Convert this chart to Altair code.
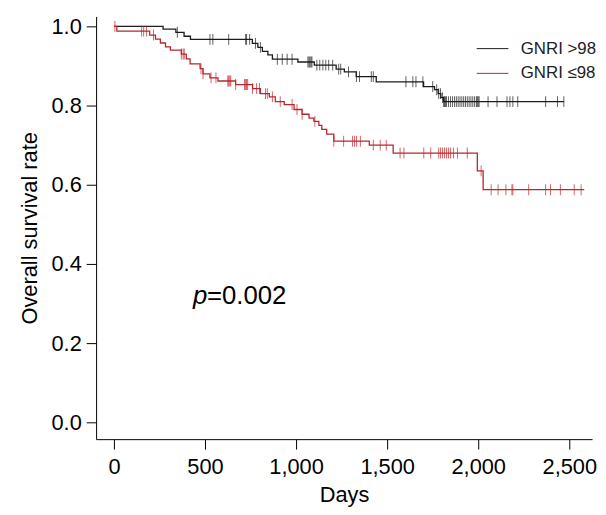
import altair as alt
import pandas as pd

groups = ["GNRI >98", "GNRI \u226498"]
colors = ["#1c1c1c", "#b3282e"]

# GNRI >98 : event days and survival after each event
hi_event_days = [270, 340, 385, 420, 760, 790, 815, 845, 870, 1010, 1100, 1220,
                 1265, 1330, 1440, 1700, 1760, 1780, 1795, 1810]
hi_event_surv = [0.993, 0.985, 0.975, 0.967, 0.957, 0.947, 0.937, 0.928, 0.917,
                 0.910, 0.902, 0.892, 0.885, 0.873, 0.860, 0.848, 0.840, 0.830,
                 0.820, 0.810]
hi_end_day = 2470
hi_censor_days = [348, 527, 543, 630, 723, 728, 745, 777, 804, 897, 924, 951, 978,
                  1065, 1071, 1076, 1082, 1087, 1114, 1130, 1147, 1163, 1179, 1201,
                  1234, 1245, 1288, 1332, 1348, 1413, 1424, 1603, 1641, 1658, 1696,
                  1750, 1772, 1783, 1793, 1804, 1810, 1815, 1820, 1826, 1837, 1848,
                  1859, 1870, 1880, 1890, 1900, 1910, 1920, 1930, 1940, 1950, 1960,
                  1970, 1980, 1990, 1995, 2000, 2005, 2054, 2103, 2158, 2174, 2190,
                  2217, 2370, 2435, 2470]

# GNRI <=98
lo_event_days = [16, 196, 228, 255, 283, 310, 370, 397, 418, 473, 489, 527, 571,
                 668, 761, 804, 853, 886, 935, 989, 1033, 1071, 1098, 1125, 1141,
                 1168, 1207, 1402, 1533, 1995, 2027]
lo_event_surv = [0.988, 0.978, 0.968, 0.958, 0.948, 0.940, 0.930, 0.918, 0.905,
                 0.893, 0.880, 0.870, 0.862, 0.853, 0.843, 0.830, 0.822, 0.810,
                 0.8025, 0.790, 0.778, 0.768, 0.760, 0.750, 0.740, 0.728, 0.710,
                 0.700, 0.680, 0.635, 0.5875]
lo_end_day = 2582
lo_censor_days = [5, 152, 163, 179, 217, 370, 380, 386, 478, 489, 533, 560, 625,
                  630, 636, 641, 668, 717, 723, 728, 734, 761, 783, 799, 832, 842,
                  870, 913, 978, 1005, 1033, 1103, 1207, 1261, 1310, 1321, 1332,
                  1353, 1424, 1462, 1495, 1571, 1592, 1701, 1739, 1783, 1793, 1804,
                  1815, 1826, 1837, 1848, 1864, 1886, 1940, 2016, 2071, 2109, 2152,
                  2185, 2190, 2277, 2370, 2397, 2451, 2527, 2565]

x_ticks = [0, 500, 1000, 1500, 2000, 2500]
y_ticks = [0.0, 0.2, 0.4, 0.6, 0.8, 1.0]

p_label = "p"
p_value = "=0.002"


def curve(name, days, surv, end):
    rows = [{"group": name, "day": 0, "surv": 1.0}]
    rows += [{"group": name, "day": d, "surv": s} for d, s in zip(days, surv)]
    rows.append({"group": name, "day": end, "surv": surv[-1]})
    return rows


def censor(name, cdays, days, surv):
    rows = []
    for c in cdays:
        s = 1.0
        for d, v in zip(days, surv):
            if d <= c:
                s = v
        rows.append({"group": name, "day": c, "surv": s})
    return rows


lines = pd.DataFrame(curve(groups[0], hi_event_days, hi_event_surv, hi_end_day)
                     + curve(groups[1], lo_event_days, lo_event_surv, lo_end_day))
cens_hi = pd.DataFrame(censor(groups[0], hi_censor_days, hi_event_days, hi_event_surv))
cens_lo = pd.DataFrame(censor(groups[1], lo_censor_days, lo_event_days, lo_event_surv))

FONT = "Liberation Sans"

xscale = alt.Scale(domain=[-98, 2625], nice=False, zero=False)
yscale = alt.Scale(domain=[-0.0425, 1.025], nice=False, zero=False)

xaxis = alt.Axis(values=x_ticks, format=",.0f", title="Days",
                 grid=False, tickSize=10, labelPadding=8, titlePadding=7)
yaxis = alt.Axis(values=y_ticks, format=".1f",
                 title="Overall survival rate", grid=False, tickSize=10,
                 labelPadding=5, titlePadding=10)

line_layer = alt.Chart(lines).mark_line(interpolate="step-after", strokeWidth=1.3).encode(
    x=alt.X("day:Q", scale=xscale, axis=xaxis),
    y=alt.Y("surv:Q", scale=yscale, axis=yaxis),
    color=alt.Color("group:N",
                    scale=alt.Scale(domain=groups, range=colors),
                    legend=alt.Legend(title=None, orient="none", legendX=384, legendY=16,
                                      symbolType="stroke", symbolSize=1024,
                                      symbolStrokeWidth=1, labelFontSize=17,
                                      labelFont=FONT, labelColor="#222222",
                                      labelOffset=12, rowPadding=0, padding=0)),
    detail="group:N",
)

tick_hi = alt.Chart(cens_hi).mark_tick(orient="vertical", size=11, thickness=1,
                                       color=colors[0]).encode(
    x=alt.X("day:Q", scale=xscale), y=alt.Y("surv:Q", scale=yscale))
tick_lo = alt.Chart(cens_lo).mark_tick(orient="vertical", size=11, thickness=1,
                                       color="#c42229").encode(
    x=alt.X("day:Q", scale=xscale), y=alt.Y("surv:Q", scale=yscale))

ptext = alt.Chart(pd.DataFrame({"t": [p_label]})).mark_text(
    font=FONT, fontSize=26, fontStyle="italic", align="left", baseline="middle",
    color="black").encode(x=alt.value(98), y=alt.value(282), text="t:N")
vtext = alt.Chart(pd.DataFrame({"t": [p_value]})).mark_text(
    font=FONT, fontSize=26, align="left", baseline="middle",
    color="black").encode(x=alt.value(112), y=alt.value(282), text="t:N")

chart = alt.layer(line_layer, tick_hi, tick_lo, ptext, vtext).properties(
    width=501, height=427,
    autosize=alt.AutoSizeParams(type="none"),
    padding={"left": 89, "top": 6, "right": 6, "bottom": 66},
).configure_view(stroke=None).configure_axis(
    domainColor="black", tickColor="black", labelColor="black", titleColor="black",
    labelFont=FONT, titleFont=FONT, labelFontSize=22, titleFontSize=22,
    titleFontWeight="normal", domainWidth=1, tickWidth=1,
)

chart.save("out.html", embed_options={"renderer": "svg", "actions": False})
